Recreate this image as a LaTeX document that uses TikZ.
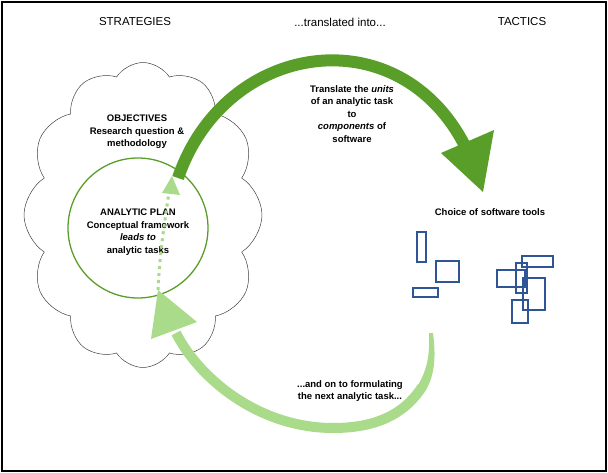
\documentclass[tikz,border=0pt]{standalone}
\usepackage{fontspec}
\setmainfont{Liberation Sans}
\usetikzlibrary{shapes.symbols}
\definecolor{dg}{HTML}{5A9E2A}
\definecolor{lg}{HTML}{A9DB8A}
\definecolor{bl}{HTML}{2F5597}
\begin{document}
\begin{tikzpicture}[x=1pt,y=-1pt,
  lbl/.style={font=\fontsize{9.5}{12.5}\selectfont\bfseries,align=center,inner sep=0},
  hdr/.style={font=\fontsize{11.5}{13}\selectfont,inner sep=0},
  box/.style={draw=bl,line width=1.4pt}]
\useasboundingbox (0,0) rectangle (608,473);
\draw[line width=1.5pt] (2,2) rectangle (606,471);
\node[cloud,cloud puffs=12,cloud puff arc=115,aspect=0.8,draw=black!75,line width=0.5pt,minimum width=238,minimum height=305,inner sep=0] (cloud) at (143,215) {};
\node[circle,draw=dg,line width=1.3pt,fill=white,minimum size=140] (plan) at (138,228) {};
% dark green arrow
\draw[dg,line width=12pt] (178,178) .. controls (225,40) and (400,15) .. (466,148);
\fill[dg] (441,153) -- (494,130) -- (483,192) -- cycle;
\node[hdr] (s) at (135,22) {STRATEGIES};
\node[hdr] (t) at (340,22) {...translated into...};
\node[hdr] (tac) at (522,22) {TACTICS};
\node[lbl] (obj) at (137,132) {OBJECTIVES\\Research question \&\\methodology};
\node[lbl] (ap) at (138,232) {ANALYTIC PLAN\\Conceptual framework\\\textit{leads to}\\analytic tasks};
\node[lbl] (tr) at (352,114) {Translate the \textit{units}\\of an analytic task\\to\\\textit{components} of\\software};
\node[lbl] (ch) at (490,212) {Choice of software tools};
\node[lbl] (nx) at (350,391) {...and on to formulating\\the next analytic task...};
% light green arrow (tapered tail)
\fill[lg] (429,333) .. controls (430,355) and (427,370) .. (418,385) -- (426,390) .. controls (435,374) and (436,356) .. (433,333) -- cycle;
\draw[lg,line width=10pt] (422,387) .. controls (402,418) and (370,428) .. (333,428) .. controls (260,428) and (200,380) .. (176,333);
\fill[lg] (197,322) -- (151,339) -- (158,290) -- cycle;
% dotted arrow
\draw[lg,line width=3pt,dash pattern=on 3pt off 4pt] (158,290) .. controls (160,250) and (165,220) .. (169,192);
\fill[lg] (162,193) -- (180,195) -- (172,176) -- cycle;
% blue boxes
\draw[box] (417,232) rectangle (426,262);
\draw[box] (436,261) rectangle (459,282);
\draw[box] (413,288) rectangle (438,297);
\draw[box] (497,270) rectangle (525,287);
\draw[box] (516,263) rectangle (527,293);
\draw[box] (522,256) rectangle (553,267);
\draw[box] (523,278) rectangle (545,310);
\draw[box] (512,300) rectangle (528,323);
\end{tikzpicture}
\end{document}
